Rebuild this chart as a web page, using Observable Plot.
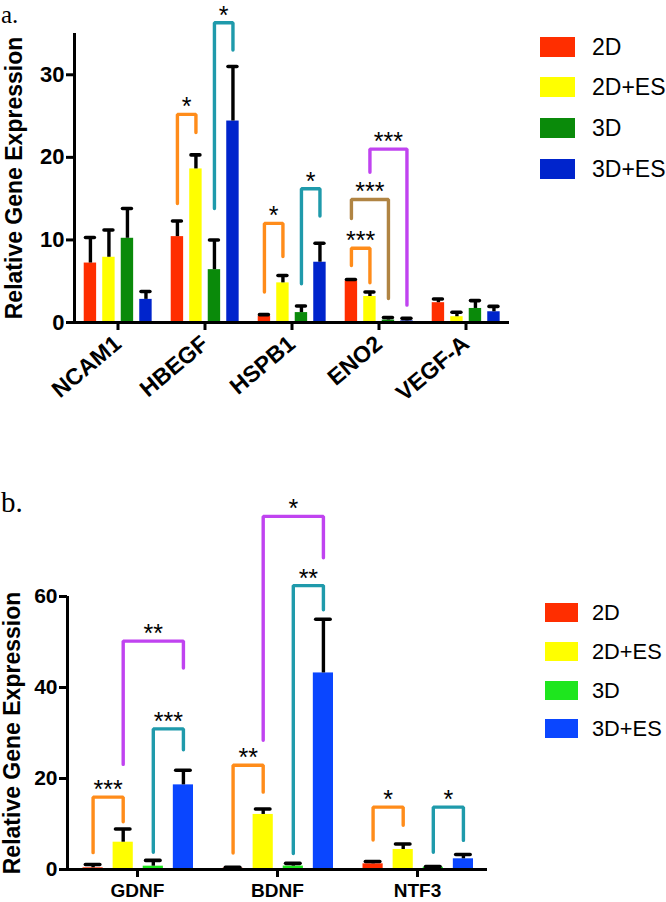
<!DOCTYPE html>
<html><head><meta charset="utf-8">
<script src="https://cdn.jsdelivr.net/npm/d3@7"></script>
<script src="https://cdn.jsdelivr.net/npm/@observablehq/plot@0.6"></script>
<style>
body{margin:0;background:#fff;font-family:"Liberation Sans",Arial,sans-serif;}
#root{position:relative;width:666px;height:902px;overflow:hidden;background:#fff;}
.panel{position:absolute;left:0;}
.tag{position:absolute;font-family:"Liberation Serif","Times New Roman",serif;color:#000;line-height:1.1;}
.legend{position:absolute;left:0;top:0;}
.legend .item{position:absolute;display:flex;align-items:center;white-space:nowrap;color:#000;}
.legend .sw{display:inline-block;}
g[aria-label="y-axis label"] text{font-size:23px;}
</style></head>
<body><div id="root"></div>
<script>
// ---------- shared ----------
const groups = ["2D", "2D+ES", "3D", "3D+ES"];
const colorsA = ["#ff2e00", "#ffff00", "#0a8a0a", "#0024cc"];
const colorsB = ["#ff2e00", "#ffff00", "#1ee61e", "#0a46ff"];
const cmpPairs = ["2D|2D+ES", "3D|3D+ES", "2D+ES|3D+ES", "2D|3D"];
const cmpColors = ["#ff8c1a", "#1f9aab", "#c043f0", "#b08443"];

// ---------- panel a ----------
const genesA = ["NCAM1", "HBEGF", "HSPB1", "ENO2", "VEGF-A"];
const a2D    = [7.2, 10.4, 0.75, 5.05, 2.4];
const a2DES  = [7.9, 18.6, 4.8, 3.15, 0.7];
const a3D    = [10.2, 6.4, 1.2, 0.3, 1.7];
const a3DES  = [2.8, 24.4, 7.3, 0.2, 1.3];
const aSem2D   = [3.1, 1.9, 0.2, 0.15, 0.45];
const aSem2DES = [3.3, 1.7, 0.9, 0.55, 0.55];
const aSem3D   = [3.6, 3.6, 0.8, 0.3, 0.95];
const aSem3DES = [0.95, 6.6, 2.3, 0.3, 0.65];
const yTicksA = [0, 10, 20, 30];
const bracketsA = [
  {gene: "HBEGF", a: "2D", b: "2D+ES", ya: 14.4, top: 25.2, yb: 23.0, label: "*"},
  {gene: "HBEGF", a: "3D", b: "3D+ES", ya: 13.8, top: 36.3, yb: 33.0, label: "*"},
  {gene: "HSPB1", a: "2D", b: "2D+ES", ya: 3.7, top: 12.0, yb: 8.0, label: "*"},
  {gene: "HSPB1", a: "3D", b: "3D+ES", ya: 4.7, top: 16.2, yb: 12.9, label: "*"},
  {gene: "ENO2", a: "2D", b: "2D+ES", ya: 6.9, top: 9.0, yb: 4.8, label: "***"},
  {gene: "ENO2", a: "2D", b: "3D", ya: 12.6, top: 14.9, yb: 2.9, label: "***"},
  {gene: "ENO2", a: "2D+ES", b: "3D+ES", ya: 18.2, top: 21.0, yb: 2.1, label: "***"}
];

// ---------- panel b ----------
const genesB = ["GDNF", "BDNF", "NTF3"];
const b2D    = [0.37, 0.3, 1.25];
const b2DES  = [6.0, 12.1, 4.4];
const b3D    = [0.73, 0.75, 0.5];
const b3DES  = [18.6, 43.2, 2.35];
const bSem2D   = [0.73, 0.2, 0.5];
const bSem2DES = [2.9, 1.2, 1.2];
const bSem3D   = [1.27, 0.6, 0.15];
const bSem3DES = [3.2, 11.8, 0.95];
const yTicksB = [0, 20, 40, 60];
const bracketsB = [
  {gene: "GDNF", a: "2D", b: "2D+ES", ya: 3.7, top: 15.9, yb: 10.5, label: "***"},
  {gene: "GDNF", a: "3D", b: "3D+ES", ya: 3.8, top: 30.9, yb: 26.3, label: "***"},
  {gene: "GDNF", a: "2D+ES", b: "3D+ES", ya: 23.1, top: 50.2, yb: 44.3, label: "**"},
  {gene: "BDNF", a: "2D", b: "2D+ES", ya: 3.6, top: 22.9, yb: 17.0, label: "**"},
  {gene: "BDNF", a: "3D", b: "3D+ES", ya: 3.5, top: 62.4, yb: 57.1, label: "**"},
  {gene: "BDNF", a: "2D+ES", b: "3D+ES", ya: 28.4, top: 77.6, yb: 68.5, label: "*"},
  {gene: "NTF3", a: "2D", b: "2D+ES", ya: 6.5, top: 13.7, yb: 9.7, label: "*"},
  {gene: "NTF3", a: "3D", b: "3D+ES", ya: 3.8, top: 13.7, yb: 6.4, label: "*"}
];

// ---------- builder ----------
function rowsOf(genes, series, sems) {
  return genes.flatMap((gene, gi) => groups.map((group, i) => ({
    gene, group, i, mean: series[i][gi], sem: sems[i][gi]
  })));
}
function cmpColor(a, b) { return cmpColors[cmpPairs.indexOf(a + "|" + b)]; }

function panel(o) {
  const rows = rowsOf(o.genes, o.series, o.sems);
  const hw = 0.335, cw = 0.24;
  const yTop = o.yTicks[o.yTicks.length - 1] + o.yExtra;
  const bracketMarks = o.brackets.map(b => {
    const ia = groups.indexOf(b.a), ib = groups.indexOf(b.b);
    const pts = [[ia, b.ya], [ia, b.top], [ib, b.top], [ib, b.yb]].map(([x, y]) => ({gene: b.gene, x, y}));
    return Plot.line(pts, {fx: "gene", x: "x", y: "y", stroke: cmpColor(b.a, b.b), strokeWidth: 3.4,
      strokeLinecap: "round", strokeLinejoin: "miter"});
  });
  return Plot.plot({
    width: 666, height: o.height,
    marginLeft: o.ml, marginRight: o.mr, marginTop: o.mt, marginBottom: o.mb,
    fx: {domain: o.genes, padding: 0, axis: null},
    x: {domain: o.xDomain, axis: null},
    y: {domain: [0, yTop], axis: null},
    color: {domain: groups, range: o.colors},
    style: {fontFamily: "'Liberation Sans', Arial, sans-serif", color: "#000", background: "transparent", overflow: "visible"},
    marks: [
      Plot.rectY(rows, {fx: "gene", x1: d => d.i - hw, x2: d => d.i + hw, y1: 0, y2: "mean", fill: "group"}),
      Plot.ruleX(rows, {fx: "gene", x: "i", y1: "mean", y2: d => d.mean + d.sem, stroke: "#000", strokeWidth: 3.4}),
      Plot.ruleY(rows, {fx: "gene", x1: d => d.i - cw, x2: d => d.i + cw, y: d => d.mean + d.sem, stroke: "#000", strokeWidth: 3.6, strokeLinecap: "round"}),
      ...bracketMarks,
      Plot.text(o.brackets, {fx: "gene", x: b => (groups.indexOf(b.a) + groups.indexOf(b.b)) / 2, y: "top",
        text: "label", lineAnchor: "bottom", fontSize: 25, fill: "#000", dy: 1}),
      Plot.ruleY([0], {stroke: "#000", strokeWidth: 3}),
      Plot.ruleX([{gene: o.genes[0]}], {fx: "gene", x: () => o.xDomain[0], y1: 0, y2: yTop, stroke: "#000", strokeWidth: 3}),
      Plot.axisY({ticks: o.yTicks, tickSize: 8, tickPadding: 2, strokeWidth: 3, fontSize: o.tickFont, fontWeight: "bold",
        label: "Relative Gene Expression", labelAnchor: "center", labelOffset: o.labelOffset, labelArrow: "none"}),
      Plot.axisFx({anchor: "bottom", tickSize: 8, strokeWidth: 3, fontSize: o.fxFont, fontWeight: "bold",
        tickRotate: o.rotate, tickPadding: o.fxPad, label: null})
    ]
  });
}

function legend(colors, left, tops, sw, sh, textLeft, fontSize) {
  const div = document.createElement("div");
  div.className = "legend";
  groups.forEach((g, k) => {
    const s = document.createElement("div");
    s.className = "item";
    s.style.left = left + "px"; s.style.top = tops[k] + "px"; s.style.height = sh + "px";
    const box = document.createElement("span");
    box.className = "sw"; box.style.width = sw + "px"; box.style.height = sh + "px"; box.style.background = colors[k];
    const t = document.createElement("span");
    t.textContent = g; t.style.fontSize = fontSize + "px"; t.style.marginLeft = (textLeft - left - sw) + "px";
    s.append(box, t);
    div.append(s);
  });
  return div;
}

const root = document.getElementById("root");

const pa = panel({genes: genesA, series: [a2D, a2DES, a3D, a3DES], sems: [aSem2D, aSem2DES, aSem3D, aSem3DES],
  colors: colorsA, brackets: bracketsA, yTicks: yTicksA, yExtra: 5, xDomain: [-0.86, 3.84],
  height: 440, ml: 72, mr: 155, mt: 33, mb: 118, tickFont: 22, fxFont: 23, rotate: -40, fxPad: 10, labelOffset: 69});
const wa = document.createElement("div"); wa.className = "panel"; wa.style.top = "0px"; wa.append(pa);
root.append(wa);

const pb = panel({genes: genesB, series: [b2D, b2DES, b3D, b3DES], sems: [bSem2D, bSem2DES, bSem3D, bSem3DES],
  colors: colorsB, brackets: bracketsB, yTicks: yTicksB, yExtra: 0, xDomain: [-0.85, 3.8],
  height: 442, ml: 67, mr: 179, mt: 136, mb: 33, tickFont: 21, fxFont: 19, rotate: 0, fxPad: 6, labelOffset: 64});
const wb = document.createElement("div"); wb.className = "panel"; wb.style.top = "460px"; wb.append(pb);
root.append(wb);

root.append(legend(colorsA, 540, [37, 77, 118, 159], 35, 20, 592, 23));
root.append(legend(colorsB, 545, [603, 642, 681, 719], 33, 19, 592, 21.8));

const ta = document.createElement("div"); ta.className = "tag"; ta.textContent = "a.";
ta.style.left = "1px"; ta.style.top = "1px"; ta.style.fontSize = "25px"; root.append(ta);
const tb = document.createElement("div"); tb.className = "tag"; tb.textContent = "b.";
tb.style.left = "1px"; tb.style.top = "487px"; tb.style.fontSize = "29px"; root.append(tb);
</script>
</body></html>
